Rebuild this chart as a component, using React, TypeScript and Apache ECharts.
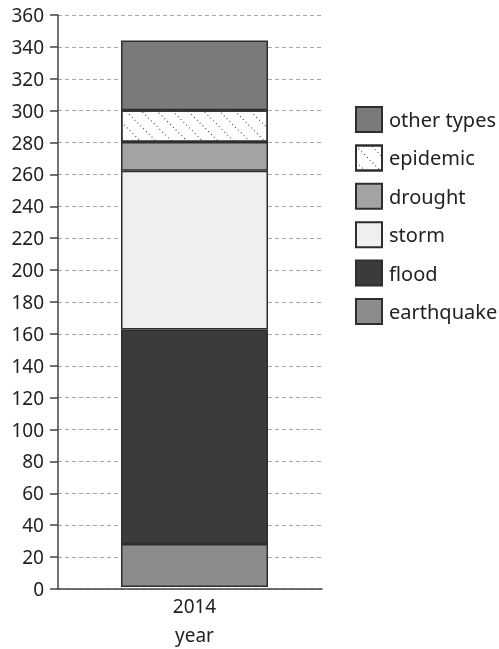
import React, { useEffect, useRef } from "react";
import * as echarts from "echarts";

const categories = ["2014"];
const seriesNames = ["earthquake", "flood", "storm", "drought", "epidemic", "other types"];
const earthquake = [27];
const flood = [135];
const storm = [100];
const drought = [18];
const epidemic = [20];
const otherTypes = [44];
const legendOrder = ["other types", "epidemic", "drought", "storm", "flood", "earthquake"];
const colors = ["#8c8c8c", "#3b3b3b", "#efefef", "#a3a3a3", "#ffffff", "#7a7a7a"];

const FONT = "Noto Sans";

export default function App() {
  const ref = useRef<HTMLDivElement>(null);
  useEffect(() => {
    if (!ref.current) return;
    const chart = echarts.init(ref.current, undefined, { renderer: "svg" });
    const values = [earthquake, flood, storm, drought, epidemic, otherTypes];
    const series = seriesNames.map((name, i) => ({
      name,
      type: "bar",
      stack: "total",
      xAxisIndex: 1,
      yAxisIndex: 1,
      barWidth: 147,
      data: values[i],
      itemStyle: {
        color: colors[i],
        borderColor: "#2e2e2e",
        borderWidth: 1.5,
        ...(name === "epidemic"
          ? {
              decal: {
                symbol: "rect",
                symbolSize: 1,
                color: "#333",
                dashArrayX: [1, 3],
                dashArrayY: [1, 10],
                rotation: Math.PI / 4,
              },
            }
          : {}),
      },
    }));
    chart.setOption({
      animation: false,
      textStyle: { fontFamily: FONT },
      grid: [
        { left: 58, top: 15, bottom: 60, right: 177, containLabel: false },
        { left: 67, top: 15, bottom: 60, right: 177, containLabel: false },
      ],
      legend: {
        orient: "vertical",
        left: 350,
        top: 101,
        itemWidth: 26,
        itemHeight: 25,
        itemGap: 11.4,
        icon: "rect",
        data: legendOrder,
        textStyle: { fontSize: 20, color: "#222", fontFamily: FONT, padding: [0, 0, 0, 2] },
      },
      xAxis: [
        {
          type: "category",
          gridIndex: 0,
          data: [""],
          axisLine: { lineStyle: { color: "#444", width: 1.5 } },
          axisTick: { show: false },
          axisLabel: { show: false },
        },
        {
          type: "category",
          gridIndex: 1,
          data: categories,
          name: "year",
          nameLocation: "middle",
          nameGap: 38,
          nameTextStyle: { fontSize: 19, color: "#222", fontFamily: FONT },
          axisLine: { show: false },
          axisTick: { show: false },
          axisLabel: { fontSize: 19, color: "#222", margin: 9, fontFamily: FONT },
        },
      ],
      yAxis: [
        {
          type: "value",
          gridIndex: 0,
          min: 0,
          max: 360,
          interval: 20,
          axisLine: { show: true, lineStyle: { color: "#444", width: 1.5 } },
          axisTick: { show: true, length: 8, lineStyle: { color: "#444", width: 1.5 } },
          axisLabel: { fontSize: 19, color: "#222", margin: 14, fontFamily: FONT },
          splitLine: { lineStyle: { color: "#a8a8a8", type: [4, 3], width: 1 } },
        },
        {
          type: "value",
          gridIndex: 1,
          min: 0,
          max: 360,
          interval: 20,
          show: false,
          splitLine: { show: false },
        },
      ],
      series,
    });
    return () => chart.dispose();
  }, []);
  return (
    <div
      ref={ref}
      style={{ position: "fixed", left: 0, top: 0, width: 499, height: 649 }}
    />
  );
}
